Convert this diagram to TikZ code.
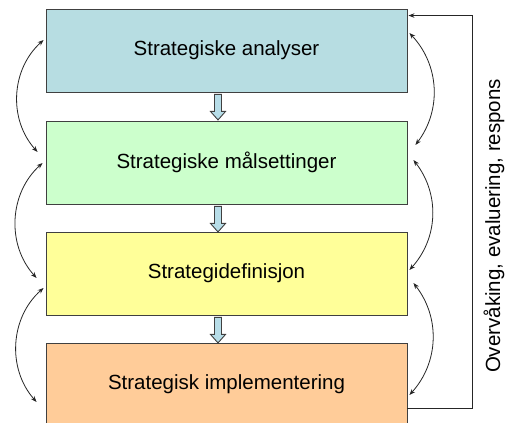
\documentclass[tikz,border=0pt]{standalone}
\usepackage{fontspec}
\setmainfont{Liberation Sans}
\usetikzlibrary{calc,arrows.meta}
\definecolor{boxA}{RGB}{183,221,226}
\definecolor{boxB}{RGB}{204,255,204}
\definecolor{boxC}{RGB}{255,255,153}
\definecolor{boxD}{RGB}{255,204,153}
\definecolor{edge}{RGB}{64,64,64}
\definecolor{arrfill}{RGB}{183,221,232}
\tikzset{
  stagebox/.style={draw=edge, line width=0.9pt, minimum width=361pt, minimum height=83pt,
    inner sep=0pt, font=\fontsize{20.5}{24}\selectfont},
  curvearr/.style={{Stealth[length=6pt,width=4.5pt]}-{Stealth[length=6pt,width=4.5pt]}, line width=0.8pt, black!85},
  fbline/.style={-{Stealth[length=6pt,width=4.5pt]}, line width=0.8pt, black!85},
  downarr/.pic={
    \draw[draw=edge, fill=arrfill, line width=0.9pt]
      (-3.5,0) -- ++(7,0) -- ++(0,-17) -- ++(4,0) -- ++(-7.5,-8.5) -- ++(-7.5,8.5) -- ++(4,0) -- cycle;
  }
}
\begin{document}
\begin{tikzpicture}[x=1pt,y=1pt]
\clip (0,0) rectangle (509,423);
\fill[white] (0,0) rectangle (509,423);

\node[stagebox, fill=boxA] (b1) at (226.5,372.5) {Strategiske analyser};
\node[stagebox, fill=boxB] (b2) at (226.5,260.5) {Strategiske målsettinger};
\node[stagebox, fill=boxC] (b3) at (226.5,149.5) {Strategidefinisjon};
\node[stagebox, fill=boxD] (b4) at (226.5,38.5) {Strategisk implementering};

\pic at ($(b1.south)+(-8.5,-2)$) {downarr};
\pic at ($(b2.south)+(-8.5,-2)$) {downarr};
\pic at ($(b3.south)+(-8.5,-2)$) {downarr};

% left curved arrows
\draw[curvearr] ($(b1.west)+(-2,10.5)$) to[bend right=45] ($(b2.west)+(-8,10.5)$);
\draw[curvearr] ($(b2.west)+(-3,-0.5)$) to[bend right=45] ($(b3.west)+(-9,-4.5)$);
\draw[curvearr] ($(b3.west)+(-2,-14.5)$) to[bend right=45] ($(b4.west)+(-9,-17.5)$);

% right curved arrows
\draw[curvearr] ($(b1.east)+(2,17.5)$) to[bend left=40] ($(b2.east)+(8,17.5)$);
\draw[curvearr] ($(b2.east)+(6,2.5)$) to[bend left=40] ($(b3.east)+(2,3.5)$);
\draw[curvearr] ($(b3.east)+(6,-9.5)$) to[bend left=40] ($(b4.east)+(2,-10.5)$);

% feedback loop
\draw[fbline] ($(b4.east)+(0,-23.5)$) -- ++(65,0) |- ($(b1.north east)+(1,-7)$);
\node[rotate=90, font=\fontsize{20.5}{24}\selectfont] (fb) at (494,197) {Overvåking, evaluering, respons};
\end{tikzpicture}
\end{document}
